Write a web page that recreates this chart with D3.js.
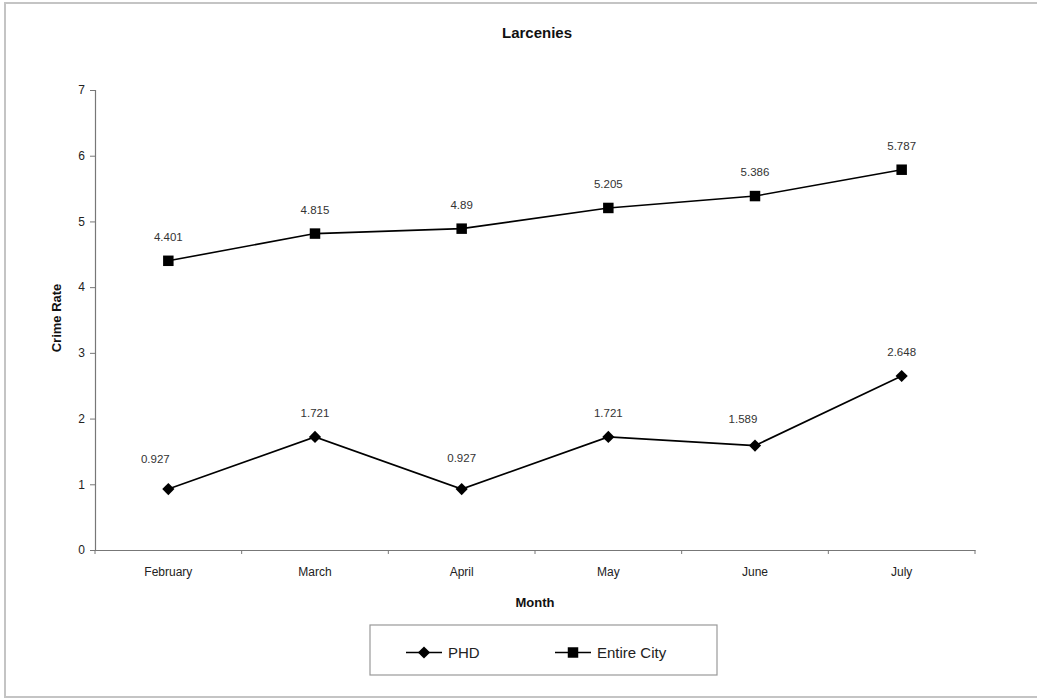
<!DOCTYPE html>
<html>
<head>
<meta charset="utf-8">
<script src="https://cdn.jsdelivr.net/npm/d3@7"></script>
<style>
  html, body { margin: 0; padding: 0; background: #fff; }
  svg { display: block; font-family: "Liberation Sans", Arial, sans-serif; }
</style>
</head>
<body>
<svg id="chart" width="1037" height="698"></svg>
<script>
// Monthly larceny crime rates
const months = ["February", "March", "April", "May", "June", "July"];
const phd = [0.927, 1.721, 0.927, 1.721, 1.589, 2.648];
const entireCity = [4.401, 4.815, 4.89, 5.205, 5.386, 5.787];
const yTicks = [0, 1, 2, 3, 4, 5, 6, 7];
const seriesNames = ["PHD", "Entire City"];

const svg = d3.select("#chart");

// outer chart frame
svg.append("rect")
  .attr("x", 5).attr("y", 3).attr("width", 1040).attr("height", 694)
  .attr("fill", "none").attr("stroke", "#c4c4c4").attr("stroke-width", 2);

const plot = { left: 95, right: 975, top: 90, bottom: 550 };

const x = d3.scaleBand().domain(months).range([plot.left, plot.right]).padding(0);
const y = d3.scaleLinear().domain([0, 7]).range([plot.bottom, plot.top]);

// y axis
const yAxis = svg.append("g")
  .attr("transform", `translate(${plot.left},0)`)
  .call(d3.axisLeft(y).tickValues(yTicks).tickSize(5).tickPadding(5).tickFormat(d3.format("d")));
// x axis with category boundary ticks
const xAxisG = svg.append("g").attr("transform", `translate(0,${plot.bottom})`);
xAxisG.call(d3.axisBottom(x).tickSize(0).tickPadding(17));
const bounds = months.map(m => x(m)).concat([plot.right]);
xAxisG.selectAll("line.bound").data(bounds).enter().append("line")
  .attr("class", "bound")
  .attr("x1", d => d).attr("x2", d => d).attr("y1", 0).attr("y2", 4)
  .attr("stroke", "#777");

[yAxis, xAxisG].forEach(g => {
  g.select(".domain").attr("stroke", "#777").attr("stroke-width", 1.2);
  g.selectAll(".tick line").attr("stroke", "#777");
  g.selectAll("text").attr("fill", "#222").style("font-size", "12px")
    .style("font-family", "'Liberation Sans', Arial, sans-serif");
});

// title and axis titles
svg.append("text").attr("x", 537).attr("y", 38).attr("text-anchor", "middle")
  .style("font-size", "15px").style("font-weight", "bold").attr("fill", "#111").text("Larcenies");
svg.append("text").attr("x", 535).attr("y", 607).attr("text-anchor", "middle")
  .style("font-size", "13px").style("font-weight", "bold").attr("fill", "#111").text("Month");
svg.append("text").attr("transform", "translate(61,318) rotate(-90)").attr("text-anchor", "middle")
  .style("font-size", "13px").style("font-weight", "bold").attr("fill", "#111").text("Crime Rate");

const cx = m => x(m) + x.bandwidth() / 2;
const line = d3.line().x((d, i) => cx(months[i])).y(d => y(d));

const diamond = d3.symbol().type(d3.symbolDiamond2).size(95);
const square = d3.symbol().type(d3.symbolSquare).size(110);

const series = [
  { name: seriesNames[0], values: phd, symbol: diamond },
  { name: seriesNames[1], values: entireCity, symbol: square }
];

// label nudges where lines would crowd the default position
const labelNudge = { "0-0": [-13, -6], "0-2": [0, -7], "0-4": [-12, -3] };

series.forEach((s, si) => {
  svg.append("path").datum(s.values).attr("d", line)
    .attr("fill", "none").attr("stroke", "#000").attr("stroke-width", 1.6);
  svg.selectAll(null).data(s.values).enter().append("path")
    .attr("d", s.symbol)
    .attr("transform", (d, i) => `translate(${cx(months[i])},${y(d)})`)
    .attr("fill", "#000");
  svg.selectAll(null).data(s.values).enter().append("text")
    .attr("x", (d, i) => cx(months[i]) + ((labelNudge[si + "-" + i] || [0, 0])[0]))
    .attr("y", (d, i) => y(d) - 20 + ((labelNudge[si + "-" + i] || [0, 0])[1]))
    .attr("text-anchor", "middle")
    .style("font-size", "11.5px").attr("fill", "#333")
    .text(d => d);
});

// legend
const lg = svg.append("g");
lg.append("rect").attr("x", 370).attr("y", 625).attr("width", 347).attr("height", 50)
  .attr("fill", "#fff").attr("stroke", "#999").attr("stroke-width", 1.2);
const legendItems = [
  { name: seriesNames[0], symbol: diamond, x0: 406 },
  { name: seriesNames[1], symbol: square, x0: 555 }
];
legendItems.forEach(it => {
  const ly = 652.5;
  lg.append("line").attr("x1", it.x0).attr("x2", it.x0 + 36).attr("y1", ly).attr("y2", ly)
    .attr("stroke", "#000").attr("stroke-width", 1.6);
  lg.append("path").attr("d", it.symbol).attr("transform", `translate(${it.x0 + 18},${ly})`).attr("fill", "#000");
  lg.append("text").attr("x", it.x0 + 42).attr("y", ly + 5.5)
    .style("font-size", "15px").attr("fill", "#222").text(it.name);
});
</script>
</body>
</html>
